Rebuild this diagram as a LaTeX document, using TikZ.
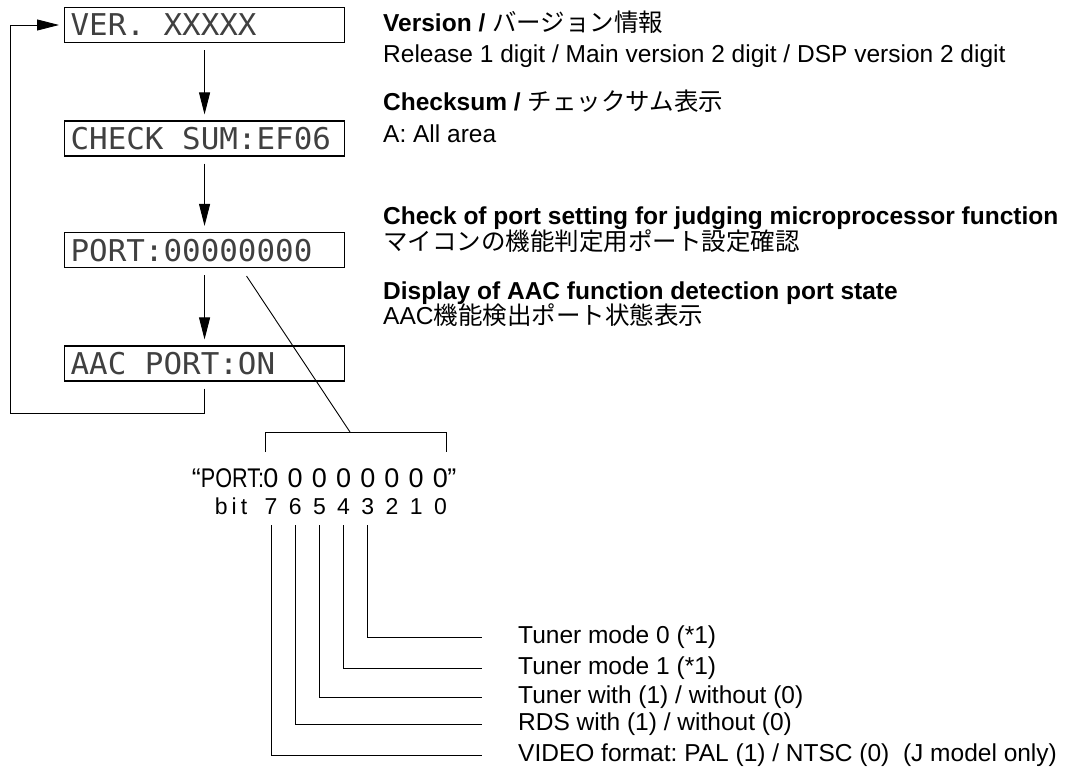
\documentclass[tikz,border=0pt]{standalone}
\usepackage{fontspec}
\usepackage{graphicx}
\setmainfont{Liberation Sans}
\newfontfamily\jp{Noto Sans CJK JP}
\newfontfamily\lcd{DejaVu Sans Mono}[FakeStretch=1.03]
\usetikzlibrary{arrows.meta}
\frenchspacing
\newcommand\lcdgap{\hphantom{X}}

\tikzset{
  lcdbox/.style={draw, line width=1.1pt, anchor=west,
    text width=268pt, inner xsep=6pt, inner ysep=6.5pt,
    text height=22pt, text depth=0pt, align=left,
    font=\lcd\fontsize{30}{30}\selectfont, text=black!75},
  flow/.style={line width=0.9pt, -{Triangle[length=22pt,width=11pt]}},
  lead/.style={line width=0.9pt},
  note/.style={anchor=base west, inner sep=0pt,
    font=\fontsize{24.5}{24.5}\selectfont},
  digit/.style={anchor=base, inner sep=0pt, font=\fontsize{27}{27}\selectfont},
  bitno/.style={anchor=base, inner sep=0pt, font=\fontsize{23}{23}\selectfont},
  bitnote/.style={anchor=west, inner sep=0pt,
    font=\fontsize{24.5}{24.5}\selectfont},
}

\begin{document}
\begin{tikzpicture}[x=1pt,y=-1pt]
  \useasboundingbox (0,0) rectangle (1067,776);
  % display screens
  \node[lcdbox] (ver) at (64,25) {VER.\lcdgap XXXXX};
  \node[lcdbox] (chk) at (64,138.5) {CHECK\lcdgap SUM:EF06};
  \node[lcdbox] (port) at (64,250) {PORT:00000000};
  \node[lcdbox] (aac) at (64,363.5) {AAC\lcdgap PORT:ON};
  \draw[flow] ([yshift=-7pt]ver.south) -- ([yshift=6pt]chk.north);
  \draw[flow] ([yshift=-7pt]chk.south) -- ([yshift=6pt]port.north);
  \draw[flow] ([yshift=-7pt]port.south) -- ([yshift=6pt]aac.north);
  \coordinate (loop) at (10,413);
  \draw[flow] ([yshift=-7pt]aac.south) |- (loop) |- ([xshift=-5pt]ver.west);
  % notes
  \node[note] (n1) at (383,32) {\textbf{Version /} {\jp バージョン情報}};
  \node[note] (n1b) at (383,63) {Release 1 digit / Main version 2 digit / DSP version 2 digit};
  \node[note] (n2) at (383,110) {\textbf{Checksum /} {\jp チェックサム表示}};
  \node[note] (n2b) at (383,142) {A: All area};
  \node[note] (n3) at (383,224) {\textbf{Check of port setting for judging microprocessor function}};
  \node[note] (n3b) at (383,250) {\jp マイコンの機能判定用ポート設定確認};
  \node[note] (n4) at (383,299) {\textbf{Display of AAC function detection port state}};
  \node[note] (n4b) at (383,324) {AAC{\jp 機能検出ポート状態表示}};
  % port bits
  \foreach \n in {7,...,0}
  {\pgfmathsetmacro\x{271+24.2*(7-\n)}
   \node[digit] (p\n) at (\x,487) {0};
   \node[bitno] (b\n) at (\x,514) {\n};}
  \node[digit, anchor=base east] (pfx) at ([xshift=1pt]p7.base west) {“\scalebox{0.8}[1]{PORT:}};
  \node[digit, anchor=base west] (sfx) at ([xshift=-1pt]p0.base east) {”};
  \node[bitno, anchor=base east] (bit) at ([xshift=-17pt]b7.base west) {b\hspace{4pt}i\hspace{4pt}t};
  \coordinate (brtop) at (350,432);
  \draw[lead] (265,452) -- (265,432) -- (446,432) -- (446,452);
  \draw[lead] ([xshift=42pt,yshift=-8pt]port.south) -- (brtop);
  \foreach \n/\yy/\txt in {3/637/{Tuner mode 0 (*1)},
      4/668/{Tuner mode 1 (*1)},
      5/697/{Tuner with (1) / without (0)},
      6/724/{RDS with (1) / without (0)},
      7/755/{VIDEO format: PAL (1) / NTSC (0)\ \ (J model only)}}
  {\node[bitnote] (t\n) at (518,\yy) {\txt};
   \draw[lead] ([yshift=-11pt]b\n.base) |- ([xshift=-36pt]t\n.west);}
\end{tikzpicture}
\end{document}
